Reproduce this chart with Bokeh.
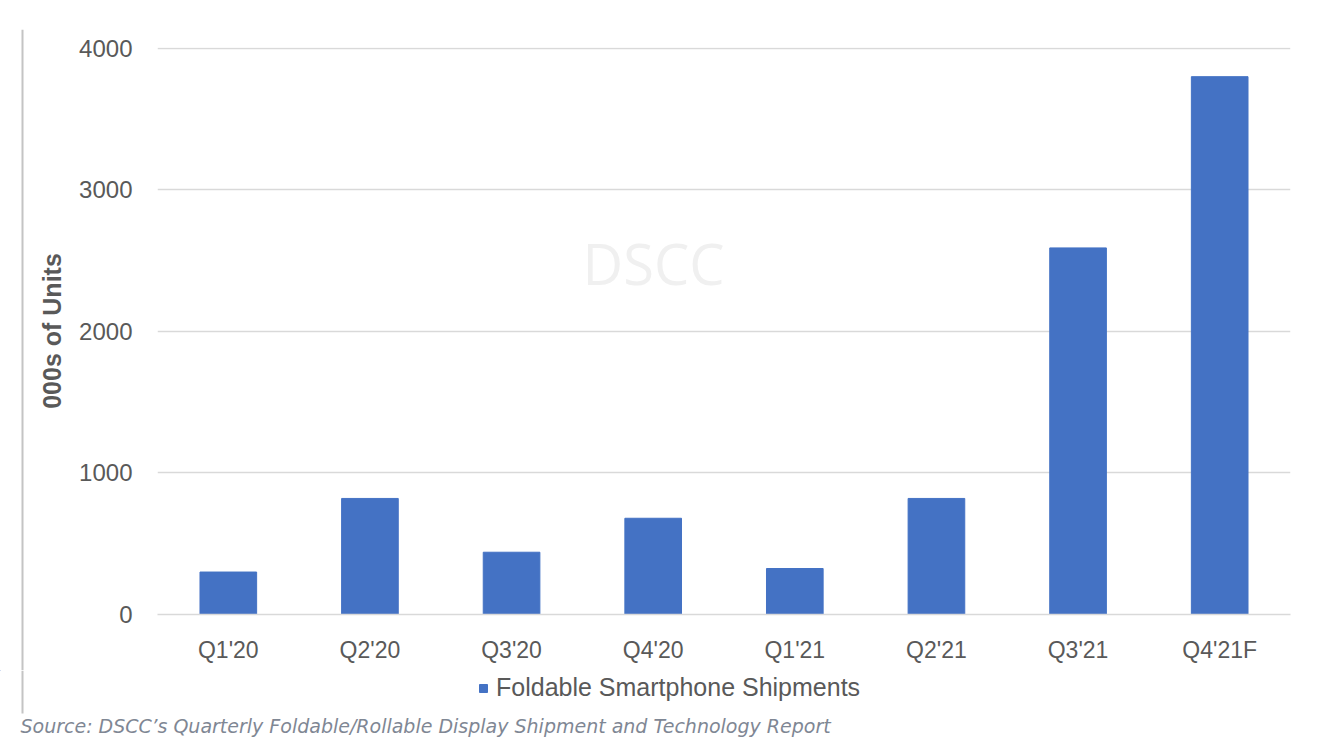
from bokeh.plotting import figure
from bokeh.models import Label, Legend, LegendItem, FixedTicker, Span, Spacer
from bokeh.layouts import row, column
from bokeh.embed import file_html
from bokeh.resources import INLINE

quarters = ["Q1'20", "Q2'20", "Q3'20", "Q4'20", "Q1'21", "Q2'21", "Q3'21", "Q4'21F"]
shipments = [300, 820, 440, 680, 325, 820, 2590, 3800]
y_ticks = [0, 1000, 2000, 3000, 4000]
series_name = "Foldable Smartphone Shipments"
y_title = "000s of Units"
source_text = "Source: DSCC\u2019s Quarterly Foldable/Rollable Display Shipment and Technology Report"
watermark = "DSCC"

FONT = "Liberation Sans"
GREY = "#595959"
BLUE = "#4472C4"
RULE = "#c4c4c4"

def plain(fig):
    fig.outline_line_color = None
    fig.xaxis.visible = False
    fig.yaxis.visible = False
    fig.xgrid.visible = False
    fig.ygrid.visible = False
    fig.background_fill_color = "white"
    fig.border_fill_color = "white"

def bare(**kw):
    return figure(output_backend="svg", toolbar_location=None,
                  min_border=0, min_border_left=0, min_border_right=0,
                  min_border_top=0, min_border_bottom=0, **kw)

# ---- main chart ----
p = figure(x_range=quarters, y_range=(0, 4006), width=1293, height=670,
           output_backend="svg", toolbar_location=None,
           min_border_left=133, min_border_right=27, min_border_top=47, min_border_bottom=56)
p.outline_line_color = None
p.background_fill_color = "white"
p.border_fill_color = "white"

r = p.vbar(x=quarters, top=shipments, width=0.4, color=BLUE, line_color=BLUE)

p.xgrid.grid_line_color = None
p.ygrid.grid_line_color = "#d9d9d9"
p.ygrid.grid_line_width = 1.5

p.yaxis.ticker = FixedTicker(ticks=y_ticks)
p.yaxis.axis_line_color = None
p.yaxis.major_tick_line_color = None
p.yaxis.minor_tick_line_color = None
p.yaxis.major_label_text_font = FONT
p.yaxis.major_label_text_font_size = "24px"
p.yaxis.major_label_text_color = GREY
p.yaxis.major_label_standoff = 19
p.yaxis.axis_label = y_title
p.yaxis.axis_label_text_font = FONT
p.yaxis.axis_label_text_font_size = "25px"
p.yaxis.axis_label_text_font_style = "bold"
p.yaxis.axis_label_text_color = GREY
p.yaxis.axis_label_standoff = 10

p.xaxis.axis_line_color = "#d9d9d9"
p.xaxis.axis_line_width = 1.5
p.xaxis.major_tick_line_color = None
p.xaxis.minor_tick_line_color = None
p.xaxis.major_label_text_font = FONT
p.xaxis.major_label_text_font_size = "23px"
p.xaxis.major_label_text_color = GREY
p.xaxis.major_label_standoff = 16

p.add_layout(Label(x=496, y=352, x_units="screen", y_units="screen", text=watermark,
                   text_font="Open Sans", text_font_size="56px", text_color="#f0f0f0",
                   text_align="center", text_baseline="middle", level="underlay"))

# ---- left decorative rule (upper part) ----
decor = bare(width=24, height=641, x_range=(0, 24), y_range=(0, 1))
plain(decor)
decor.add_layout(Span(location=22, dimension="height", line_color=RULE, line_width=2))

# ---- footer: legend + source note ----
footer = bare(width=1317, height=81, x_range=(0, 1317), y_range=(81, 0))
plain(footer)
footer.segment(x0=[22], y0=[0], x1=[22], y1=[43], line_color=RULE, line_width=2)
# legend proxy renderer: a zero-height bar kept outside the visible range
legend_proxy = footer.vbar(x=[-100], top=[0], bottom=[0], width=0.4, color=BLUE, line_color=BLUE)
legend = Legend(items=[LegendItem(label=series_name, renderers=[legend_proxy])],
                location=(478, 49), orientation="horizontal",
                label_text_font=FONT, label_text_font_size="25px", label_text_color=GREY,
                glyph_width=10, glyph_height=10, label_standoff=8,
                border_line_color=None, background_fill_alpha=0, padding=0, margin=0)
footer.add_layout(legend, "center")
footer.add_layout(Label(x=20, y=55, text=source_text,
                        text_font="DejaVu Sans", text_font_style="italic", text_font_size="19px",
                        text_color="#7f8794", text_baseline="middle"))

layout = column(row(column(Spacer(height=29, width=24), decor), p), footer)
open("out.html", "w").write(file_html(layout, INLINE))
